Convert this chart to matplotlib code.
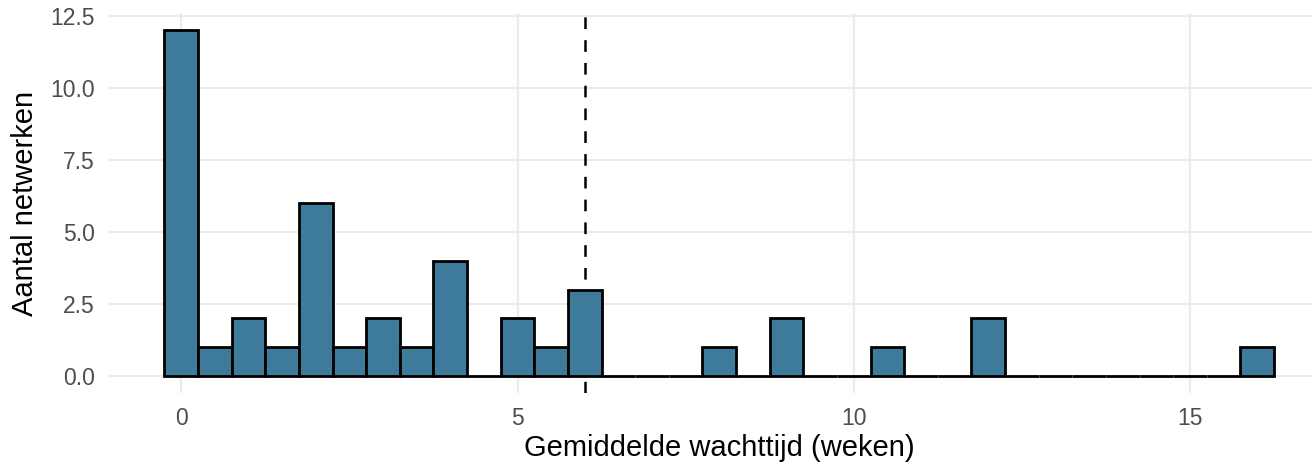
import matplotlib
matplotlib.use("Agg")
import matplotlib.pyplot as plt
from matplotlib.ticker import FixedLocator, FuncFormatter

plt.rcParams['font.family'] = ['Liberation Sans', 'DejaVu Sans']
plt.rcParams['lines.scale_dashes'] = False

# Data: histogram bins (binwidth 0.5) and counts
bin_centers = [0.0, 0.5, 1.0, 1.5, 2.0, 2.5, 3.0, 3.5, 4.0, 4.5, 5.0, 5.5,
               6.0, 6.5, 7.0, 7.5, 8.0, 8.5, 9.0, 9.5, 10.0, 10.5, 11.0, 11.5,
               12.0, 12.5, 13.0, 13.5, 14.0, 14.5, 15.0, 15.5, 16.0]
counts = [12, 1, 2, 1, 6, 1, 2, 1, 4, 0, 2, 1,
          3, 0, 0, 0, 1, 0, 2, 0, 0, 1, 0, 0,
          2, 0, 0, 0, 0, 0, 0, 0, 1]
bin_width = 0.5
reference_line = 6.0

x_ticks = [0, 5, 10, 15]
y_ticks = [0.0, 2.5, 5.0, 7.5, 10.0, 12.5]
x_label = "Gemiddelde wachttijd (weken)"
y_label = "Aantal netwerken"

W, H = 1312, 467
fig = plt.figure(figsize=(W / 100, H / 100), dpi=100)
left, right, top, bottom = 109, 1329.6, 12.7, 393.3
ax = fig.add_axes([left / W, (H - bottom) / H, (right - left) / W, (bottom - top) / H])

ax.set_xlim(-1.075, 17.075)
ax.set_ylim(-0.6, 12.6)

for s in ax.spines.values():
    s.set_visible(False)

ax.set_axisbelow(True)
ax.xaxis.set_major_locator(FixedLocator(x_ticks))
ax.yaxis.set_major_locator(FixedLocator(y_ticks))
ax.yaxis.set_major_formatter(FuncFormatter(lambda v, p: f"{v:.1f}"))
ax.grid(True, color="#EBEBEB", linewidth=1.5)
ax.tick_params(length=0, labelsize=16.5, labelcolor="#4D4D4D")
ax.tick_params(axis='y', pad=10)
ax.tick_params(axis='x', pad=10)

ax.axvline(reference_line, color="black", linewidth=1.8,
           dashes=(8.4, 8.0), zorder=1.5)

ax.bar(bin_centers, counts, width=bin_width, color="#3E7B9B",
       edgecolor="black", linewidth=2.0, zorder=2)

ax.set_xlabel(x_label, fontsize=21, color="black", labelpad=3)
ax.set_ylabel(y_label, fontsize=21, color="black", labelpad=8)

fig.savefig("out.png", dpi=100)
